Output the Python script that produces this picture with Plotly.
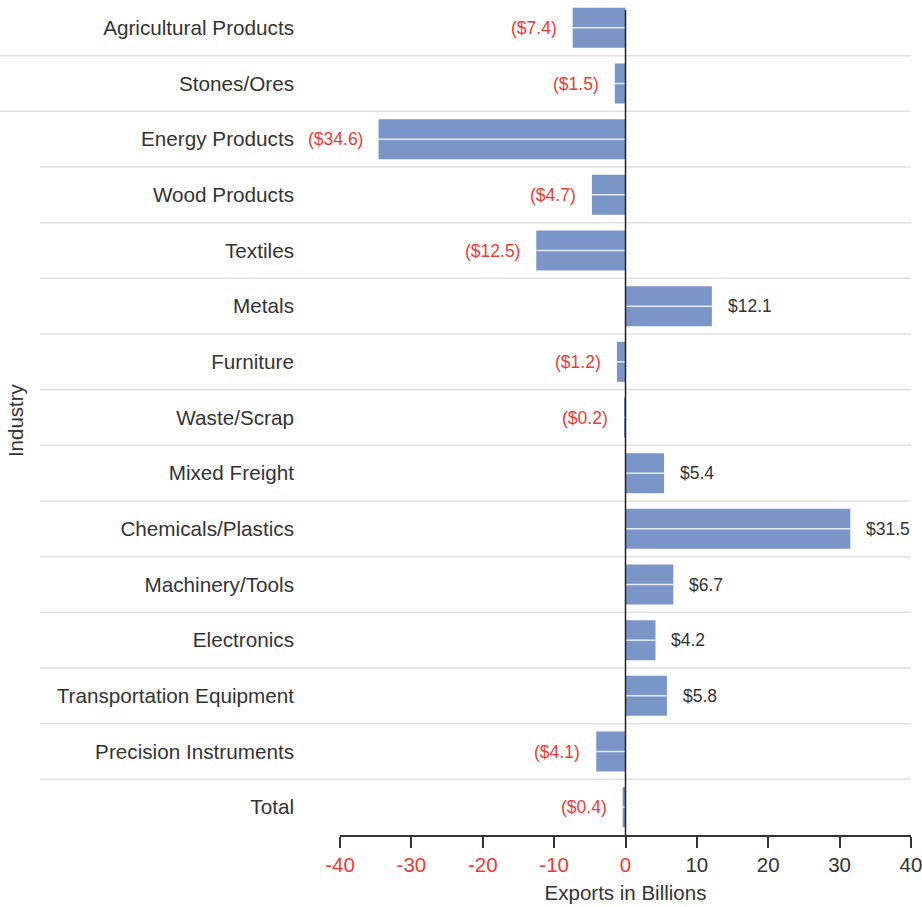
import plotly.graph_objects as go

industries = ["Agricultural Products", "Stones/Ores", "Energy Products", "Wood Products",
              "Textiles", "Metals", "Furniture", "Waste/Scrap", "Mixed Freight",
              "Chemicals/Plastics", "Machinery/Tools", "Electronics",
              "Transportation Equipment", "Precision Instruments", "Total"]
exports = [-7.4, -1.5, -34.6, -4.7, -12.5, 12.1, -1.2, -0.2, 5.4, 31.5, 6.7, 4.2, 5.8, -4.1, -0.4]
tick_vals = [-40, -30, -20, -10, 0, 10, 20, 30, 40]

RED = "#ec3b36"
DARK = "#333333"
BAR = "#7a95c7"
FONT = "Liberation Sans, Arial, Helvetica, sans-serif"

fig = go.Figure()
fig.add_trace(go.Bar(
    x=exports, y=industries, orientation="h",
    marker=dict(color=BAR, line=dict(width=0)),
    width=0.72, hoverinfo="skip", showlegend=False,
))

shapes = []
# separators between categories
for i in range(len(industries) - 1):
    shapes.append(dict(type="line", xref="paper", yref="y",
                       x0=(-0.5954 if i < 2 else -0.5254), x1=1.0,
                       y0=i + 0.5, y1=i + 0.5,
                       line=dict(color="#e2e2e2", width=1.5), layer="below"))
# white centre line through each bar
for name, v in zip(industries, exports):
    shapes.append(dict(type="line", xref="x", yref="y", x0=0, x1=v, y0=name, y1=name,
                       line=dict(color="rgba(255,255,255,0.8)", width=1.5), layer="above"))
# zero line
shapes.append(dict(type="line", xref="x", yref="paper", x0=0, x1=0, y0=0, y1=0.988,
                   line=dict(color="#222222", width=1.5), layer="above"))

annotations = []
for name, v in zip(industries, exports):
    if v < 0:
        txt, col, anc, sh = f"(${abs(v):.1f})", RED, "right", -14
    else:
        txt, col, anc, sh = f"${v:.1f}", DARK, "left", 14
    annotations.append(dict(x=v, y=name, xref="x", yref="y", text=txt, showarrow=False,
                            xanchor=anc, yanchor="middle", xshift=sh,
                            font=dict(family=FONT, size=17.5, color=col)))
annotations.append(dict(x=-0.569, y=0.497, xref="paper", yref="paper", text="Industry",
                        showarrow=False, textangle=-90, xanchor="center", yanchor="middle",
                        font=dict(family=FONT, size=20.5, color=DARK)))

tick_text = [f'<span style="color:{RED}">{t}</span>' if t <= 0 else str(t) for t in tick_vals]

fig.update_layout(
    width=922, height=907,
    margin=dict(l=340, r=11, t=0, b=72),
    plot_bgcolor="white", paper_bgcolor="white",
    font=dict(family=FONT, color=DARK),
    shapes=shapes, annotations=annotations,
    xaxis=dict(range=[-40, 40], tickvals=tick_vals, ticktext=tick_text,
               showgrid=False, zeroline=False,
               showline=True, linecolor="#333333", linewidth=1.5,
               ticks="outside", ticklen=11, tickwidth=1.5, tickcolor="#333333",
               ticklabeloverflow="allow",
               tickfont=dict(family=FONT, size=20.5, color=DARK),
               title=dict(text="Exports in Billions", standoff=10,
                          font=dict(family=FONT, size=20.5, color=DARK))),
    yaxis=dict(categoryorder="array", categoryarray=industries, autorange="reversed",
               showgrid=False, zeroline=False, showline=False, ticks="",
               ticklabelstandoff=45,
               tickfont=dict(family=FONT, size=20.7, color=DARK)),
)

fig.write_html("out.html", config={"displayModeBar": False},
               post_script="document.body.style.margin='0';")
